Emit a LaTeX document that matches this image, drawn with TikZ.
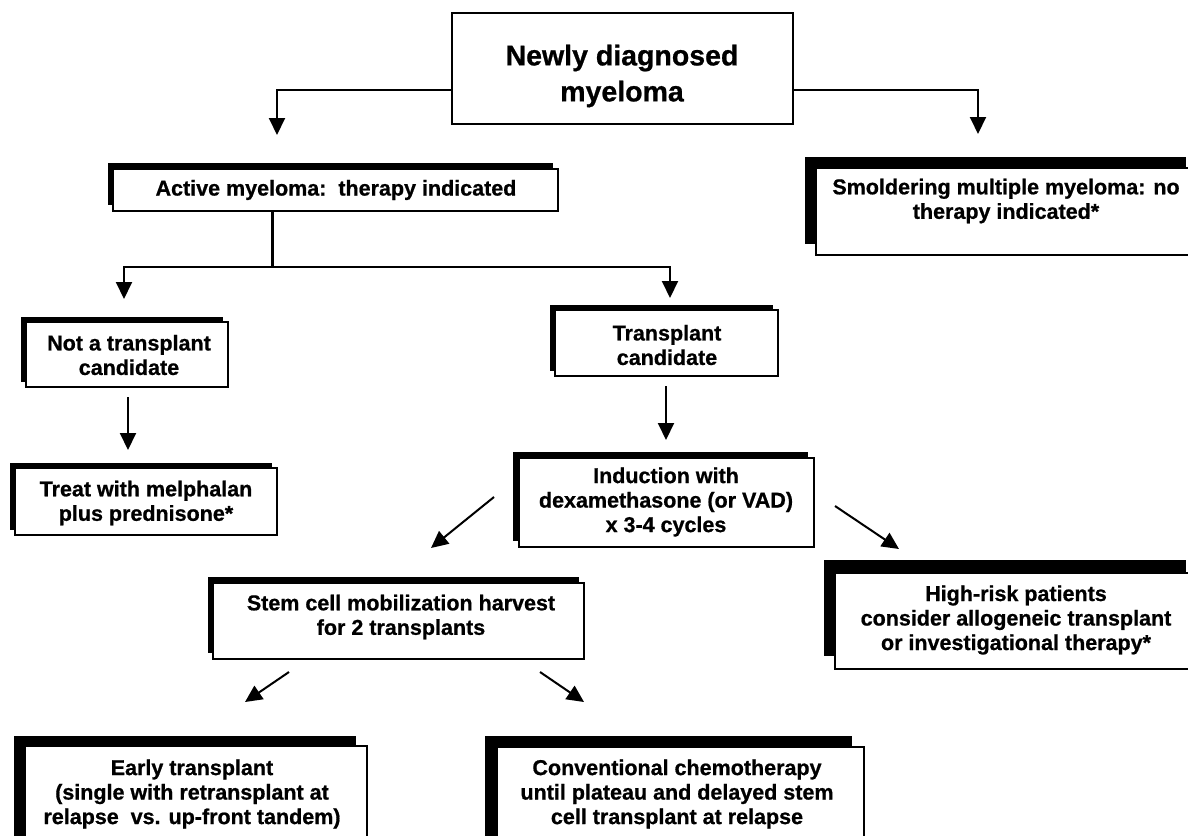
\documentclass[tikz,border=0pt]{standalone}
\usepackage{fontspec}
\setmainfont{Liberation Sans}[BoldFeatures={FakeBold=0.8}]
\usetikzlibrary{arrows.meta,shadows}
\tikzset{
  box/.style={draw=black, line width=1.3pt, fill=white, inner sep=0pt},
  sh/.style 2 args={drop shadow={shadow xshift=-#1pt, shadow yshift=#2pt, opacity=1, fill=black}},
  lbl/.style={align=center, font=\bfseries\fontsize{21.5}{24.5}\selectfont, inner sep=0pt},
  biglbl/.style={align=center, font=\bfseries\fontsize{28.5}{36}\selectfont, inner sep=0pt},
  conn/.style={line width=2pt, -{Triangle[length=17pt,width=16pt]}},
}
\begin{document}
\begin{tikzpicture}[x=1pt,y=-1pt]
\useasboundingbox (0,0) rectangle (1188,835);
\clip (0,0) rectangle (1188,835);
\fill[white] (0,0) rectangle (1188,835);
% boxes
\node[box, minimum width=341pt, minimum height=111pt] (b1) at (622.5,68.5) {};
\node[box, sh={5}{6}, minimum width=445pt, minimum height=42pt] (b2) at (335.5,190) {};
\node[box, sh={11}{11}, minimum width=381pt, minimum height=87pt] (b3) at (1006.5,211.5) {};
\node[box, sh={5}{5}, minimum width=202pt, minimum height=65pt] (b4) at (127,354.5) {};
\node[box, sh={5}{5}, minimum width=223pt, minimum height=66pt] (b5) at (666.5,343) {};
\node[box, sh={5}{5}, minimum width=262pt, minimum height=67pt] (b6) at (146,501.5) {};
\node[box, sh={6}{6}, minimum width=295pt, minimum height=89pt] (b7) at (666.5,502.5) {};
\node[box, sh={5}{6}, minimum width=371pt, minimum height=76pt] (b8) at (398.5,621) {};
\node[box, sh={11}{13}, minimum width=362pt, minimum height=96pt] (b9) at (1016,621) {};
\node[box, sh={11}{10}, minimum width=342pt, minimum height=104pt] (b10) at (196,798) {};
\node[box, sh={12}{11}, minimum width=367pt, minimum height=103pt] (b11) at (680.5,798.5) {};
% texts
\node[biglbl] (t1) at (622,76) {Newly diagnosed\\myeloma};
\node[lbl] (t2) at (336,190) {Active myeloma:\ \ therapy indicated};
\node[lbl] (t3) at (1006,201) {Smoldering multiple myeloma: no\\therapy indicated*};
\node[lbl] (t4) at (129,355) {Not a transplant\\candidate};
\node[lbl] (t5) at (667,345) {Transplant\\candidate};
\node[lbl] (t6) at (146,503) {Treat with melphalan\\plus prednisone*};
\node[lbl] (t7) at (666,502) {Induction with\\dexamethasone (or VAD)\\x 3-4 cycles};
\node[lbl] (t8) at (401,617) {Stem cell mobilization harvest\\for 2 transplants};
\node[lbl] (t9) at (1016,620) {High-risk patients\\consider allogeneic transplant\\or investigational therapy*};
\node[lbl] (t10) at (192,794) {Early transplant\\(single with retransplant at\\relapse\ \ vs. up-front tandem)};
\node[lbl] (t11) at (677,794) {Conventional chemotherapy\\until plateau and delayed stem\\cell transplant at relapse};
% connector points
\coordinate (k1) at (277,90);  \coordinate (e1) at (277,135);
\coordinate (k2) at (978,90);  \coordinate (e2) at (978,134);
\coordinate (j)  at (272,267);
\coordinate (e3) at (124,299); \coordinate (e4) at (670,298);
\coordinate (s5) at (128,397); \coordinate (e5) at (128,450);
\coordinate (s6) at (666,386); \coordinate (e6) at (666,440);
\coordinate (s7) at (494,497); \coordinate (e7) at (431,548);
\coordinate (s8) at (835,506); \coordinate (e8) at (899,549);
\coordinate (s9) at (289,672); \coordinate (e9) at (245,702);
\coordinate (s10) at (540,672); \coordinate (e10) at (584,702);
% connectors
\draw[conn] (b1.west |- k1) -- (k1) -- (e1);
\draw[conn] (b1.east |- k2) -- (k2) -- (e2);
\draw[line width=3pt] (b2.south -| j) -- (j);
\draw[conn] (j) -| (e3);
\draw[conn] (j) -| (e4);
\draw[conn] (s5) -- (e5);
\draw[conn] (s6) -- (e6);
\draw[conn] (s7) -- (e7);
\draw[conn] (s8) -- (e8);
\draw[conn] (s9) -- (e9);
\draw[conn] (s10) -- (e10);
\end{tikzpicture}
\end{document}
